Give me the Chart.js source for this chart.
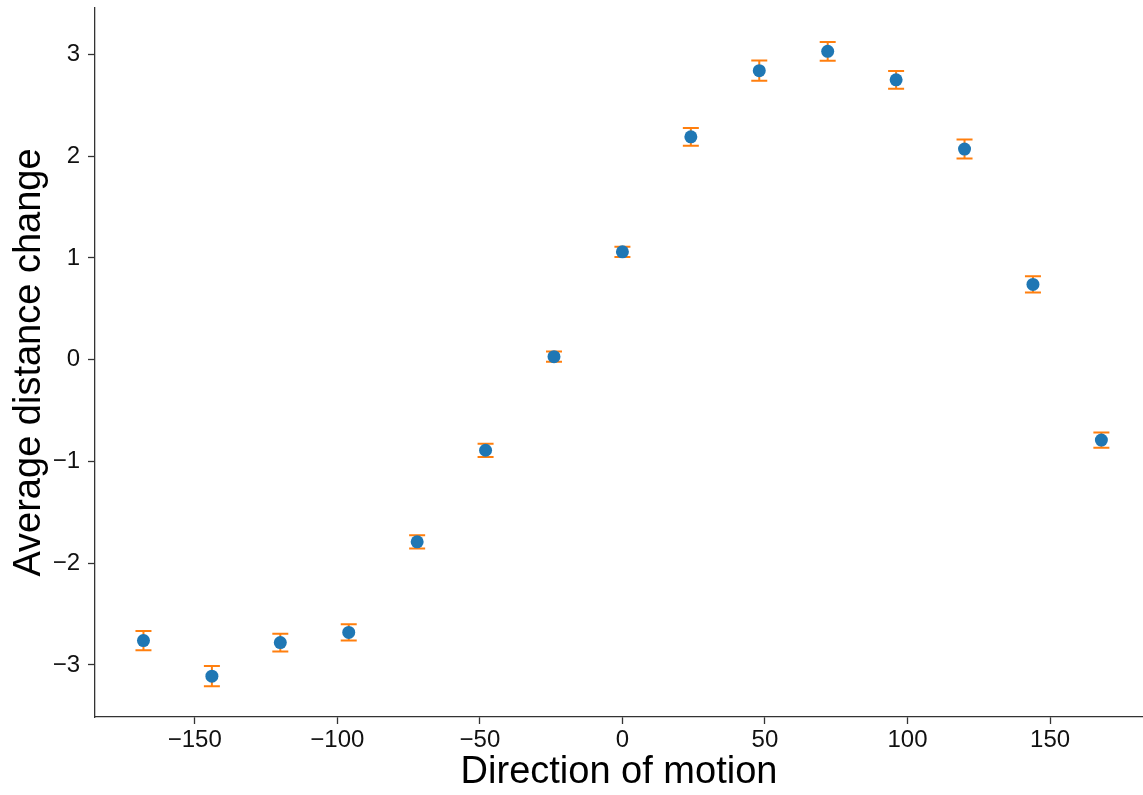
<!DOCTYPE html>
<html>
<head>
<meta charset="utf-8">
<script src="https://cdn.jsdelivr.net/npm/chart.js@4"></script>
<style>
    body { margin: 0; background: #fff; }
    #grafico { display: block; }
</style>
</head>
<body>
<canvas id="grafico" width="1143" height="795"></canvas>
<script>
// Dados
const direcoes = [-168, -144, -120, -96, -72, -48, -24, 0, 24, 48, 72, 96, 120, 144, 168];
const medias = [-2.76, -3.11, -2.78, -2.68, -1.79, -0.89, 0.03, 1.06, 2.19, 2.84, 3.03, 2.75, 2.07, 0.74, -0.79];
const erros = [0.095, 0.10, 0.087, 0.08, 0.065, 0.065, 0.05, 0.05, 0.087, 0.10, 0.093, 0.087, 0.093, 0.08, 0.074];

// Limites dos eixos
const limitesX = [-185, 182.6];
const limitesY = [-3.511, 3.456];

// Cores (padrão do matplotlib)
const corPonto = '#1f77b4';
const corErro = '#ff7f0e';
const corEixo = '#333333';
const corTexto = '#111111';

// Sinal de menos tipográfico
const formatarTick = (valor) => valor < 0 ? '\u2212' + Math.abs(valor) : String(valor);

// Plugin para desenhar as barras de erro usando as escalas do gráfico
const barrasDeErro = {
    id: 'barrasDeErro',
    beforeDatasetsDraw(chart) {
        const { ctx, scales: { x, y } } = chart;
        const meiaLargura = 8;
        ctx.save();
        ctx.strokeStyle = corErro;
        ctx.lineWidth = 2;
        direcoes.forEach((d, i) => {
            const px = x.getPixelForValue(d);
            const topo = y.getPixelForValue(medias[i] + erros[i]);
            const base = y.getPixelForValue(medias[i] - erros[i]);
            ctx.beginPath();
            ctx.moveTo(px, topo);
            ctx.lineTo(px, base);
            ctx.moveTo(px - meiaLargura, topo);
            ctx.lineTo(px + meiaLargura, topo);
            ctx.moveTo(px - meiaLargura, base);
            ctx.lineTo(px + meiaLargura, base);
            ctx.stroke();
        });
        ctx.restore();
    }
};

const ctx = document.getElementById('grafico').getContext('2d');

new Chart(ctx, {
    type: 'scatter',
    data: {
        datasets: [{
            data: direcoes.map((d, i) => ({ x: d, y: medias[i] })),
            backgroundColor: corPonto,
            borderWidth: 0,
            pointRadius: 6.5,
            pointHoverRadius: 6.5
        }]
    },
    options: {
        responsive: false,
        animation: false,
        devicePixelRatio: 1,
        layout: {
            autoPadding: false,
            padding: { top: 8, right: 0, bottom: 0, left: 0 }
        },
        plugins: {
            legend: { display: false },
            tooltip: { enabled: false }
        },
        scales: {
            x: {
                type: 'linear',
                min: limitesX[0],
                max: limitesX[1],
                border: { display: true, color: corEixo, width: 1.3 },
                grid: { drawOnChartArea: false, drawTicks: true, tickLength: 7, color: corEixo, tickWidth: 1.3 },
                ticks: {
                    stepSize: 50,
                    includeBounds: false,
                    padding: 2,
                    color: corTexto,
                    maxRotation: 0,
                    font: { family: 'Liberation Sans, Arial, sans-serif', size: 24 },
                    callback: formatarTick
                },
                title: {
                    display: true,
                    text: 'Direction of motion',
                    color: '#000',
                    padding: { top: 0, bottom: 0 },
                    font: { family: 'Liberation Sans, Arial, sans-serif', size: 38 }
                },
                afterFit: (escala) => {
                    escala.height = 78;
                    escala.paddingLeft = 0;
                    escala.paddingRight = 0;
                }
            },
            y: {
                type: 'linear',
                min: limitesY[0],
                max: limitesY[1],
                border: { display: true, color: corEixo, width: 1.3 },
                grid: { drawOnChartArea: false, drawTicks: true, tickLength: 7, color: corEixo, tickWidth: 1.3 },
                ticks: {
                    stepSize: 1,
                    includeBounds: false,
                    padding: 8,
                    color: corTexto,
                    font: { family: 'Liberation Sans, Arial, sans-serif', size: 24 },
                    callback: formatarTick
                },
                title: {
                    display: true,
                    text: 'Average distance change',
                    color: '#000',
                    padding: { top: 7, bottom: 0 },
                    font: { family: 'Liberation Sans, Arial, sans-serif', size: 38 }
                },
                afterFit: (escala) => {
                    escala.width = 95;
                    escala.paddingTop = 0;
                    escala.paddingBottom = 0;
                }
            }
        }
    },
    plugins: [barrasDeErro]
});
</script>
</body>
</html>
